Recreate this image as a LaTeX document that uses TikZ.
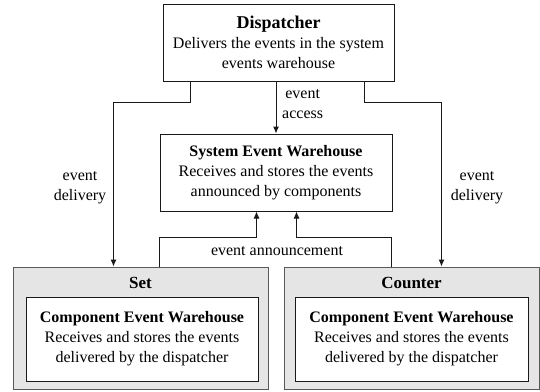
\documentclass[tikz,border=0pt]{standalone}
\usepackage{fontspec}
\setmainfont{Liberation Serif}
\usetikzlibrary{positioning,arrows.meta}

\begin{document}
\begin{tikzpicture}[x=1pt,y=-1pt,>={Latex[length=7pt,width=6pt]},
	box/.style={draw=black!90,line width=1pt,fill=white,inner sep=0pt,align=center,font=\fontsize{16}{20}\selectfont},
	comp/.style={draw=black!65,line width=1pt,fill=black!10,inner sep=0pt,minimum width=255pt,minimum height=122pt},
	lbl/.style={inner sep=0pt,align=center,font=\fontsize{16}{20}\selectfont},
	flow/.style={draw=black!90,line width=1pt,->}]
	\useasboundingbox (0,0) rectangle (540,391);

\node[box,minimum width=231pt,minimum height=77pt] (disp) at (278.5,42.5) {{\fontsize{18}{21}\selectfont\textbf{Dispatcher}}\\Delivers the events in the system\\events warehouse};
\node[box,minimum width=232pt,minimum height=77pt] (sys) at (276,172.5) {\textbf{System Event Warehouse}\\Receives and stores the events\\announced by components};

\node[comp] (set) at (140.5,328) {};
\node[comp] (cnt) at (411.5,328) {};
\node[lbl,font=\fontsize{17}{20}\selectfont\bfseries] (settitle) at (140.5,283) {Set};
\node[lbl,font=\fontsize{17}{20}\selectfont\bfseries] (cnttitle) at (411.5,283) {Counter};
\node[box,minimum width=232pt,minimum height=84pt] (setstore) at (142,339) {\textbf{Component Event Warehouse}\\Receives and stores the events\\delivered by the dispatcher};
\node[box,minimum width=233pt,minimum height=84pt] (cntstore) at (411.5,339) {\textbf{Component Event Warehouse}\\Receives and stores the events\\delivered by the dispatcher};

% dispatcher to the others
\draw[flow] ([xshift=28pt]disp.south west) -- ++(0,21) -| ([xshift=101pt]set.north west);
\draw[flow] ([xshift=-30pt]disp.south east) -- ++(0,21) -| ([xshift=158pt]cnt.north west);
\draw[flow] (sys.north |- disp.south) -- (sys.north);
\node[lbl] (dlvl) at (80,188) {event\\delivery};
\node[lbl] (dlvr) at (477,188) {event\\delivery};
\node[lbl,anchor=west] (acc) at (282,104) {event\\access};

% announcements
\draw[flow] ([xshift=147pt]set.north west) -- ++(0,-29) -| ([xshift=97pt]sys.south west);
\draw[flow] ([xshift=108pt]cnt.north west) -- ++(0,-29) -| ([xshift=137pt]sys.south west);
\node[lbl] (ann) at (277,251) {event announcement};
\end{tikzpicture}
\end{document}
